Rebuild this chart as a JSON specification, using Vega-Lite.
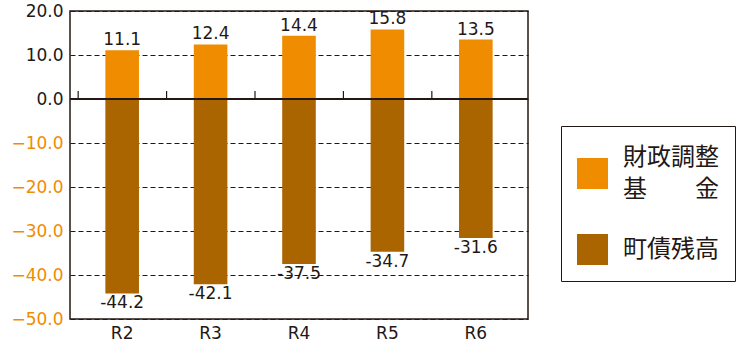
{
  "$schema": "https://vega.github.io/schema/vega-lite/v6.json",
  "autosize": {"type": "none"},
  "width": 458,
  "height": 308,
  "padding": {"left": 70, "top": 11, "right": 220, "bottom": 39},
  "background": "white",
  "config": {
    "view": {"stroke": "#231815", "strokeWidth": 1.5},
    "font": "DejaVu Sans",
    "style": {"guide-label": {"lineHeight": 32}}
  },
  "data": {
    "values": [
      {"cat": "R2", "series": "財政調整", "value": 11.1, "label": "11.1"},
      {"cat": "R3", "series": "財政調整", "value": 12.4, "label": "12.4"},
      {"cat": "R4", "series": "財政調整", "value": 14.4, "label": "14.4"},
      {"cat": "R5", "series": "財政調整", "value": 15.8, "label": "15.8"},
      {"cat": "R6", "series": "財政調整", "value": 13.5, "label": "13.5"},
      {"cat": "R2", "series": "町債残高", "value": -44.2, "label": "-44.2"},
      {"cat": "R3", "series": "町債残高", "value": -42.1, "label": "-42.1"},
      {"cat": "R4", "series": "町債残高", "value": -37.5, "label": "-37.5"},
      {"cat": "R5", "series": "町債残高", "value": -34.7, "label": "-34.7"},
      {"cat": "R6", "series": "町債残高", "value": -31.6, "label": "-31.6"}
    ]
  },
  "layer": [
    {
      "mark": {"type": "bar"},
      "encoding": {
        "x": {
          "field": "cat", "type": "nominal", "sort": null,
          "scale": {"paddingInner": 0.62, "paddingOuter": 0.4, "align": 0.5},
          "axis": {"title": null, "labelAngle": 0, "domain": false, "ticks": false, "labelPadding": 6, "labelFontSize": 17, "labelColor": "#231815", "labelFont": "DejaVu Sans"}
        },
        "y": {
          "field": "value", "type": "quantitative", "stack": null,
          "scale": {"domain": [-50, 20], "nice": false},
          "axis": {
            "title": null, "values": [-50, -40, -30, -20, -10, 0, 10, 20],
            "domain": false, "ticks": false, "labelPadding": 7,
            "labelFontSize": 17, "labelFont": "DejaVu Sans",
            "labelExpr": "datum.value < 0 ? '−' + format(-datum.value, '.1f') : format(datum.value, '.1f')",
            "labelColor": {"expr": "datum.value < 0 ? '#F08C00' : '#231815'"},
            "grid": true, "gridColor": "#231815", "gridDash": [5, 3], "gridWidth": 1
          }
        },
        "color": {
          "field": "series", "type": "nominal",
          "scale": {"domain": ["財政調整", "町債残高"], "range": ["#F08C00", "#AA6400"]},
          "legend": {
            "title": null, "orient": "none", "legendX": 491, "legendY": 115,
            "strokeColor": "#231815", "padding": 16, "fillColor": "white",
            "symbolType": "square", "symbolSize": 961, "symbolStrokeWidth": 0,
            "labelFont": "Noto Sans CJK JP", "labelFontSize": 24, "labelColor": "#231815",
            "labelOffset": 15, "rowPadding": 32, "labelLimit": 200,
            "labelExpr": "datum.label == '財政調整' ? ['財政調整', '基　　金'] : datum.label",
            "encode": {
              "symbols": {"update": {"y": {"signal": "datum.index === 0 ? 31.5 : 15.5"}}}
            }
          }
        }
      }
    },
    {
      "transform": [{"filter": "datum.value >= 0"}],
      "mark": {"type": "text", "baseline": "alphabetic", "dy": -5, "fontSize": 17, "color": "#231815", "font": "DejaVu Sans"},
      "encoding": {
        "x": {"field": "cat", "type": "nominal", "sort": null},
        "y": {"field": "value", "type": "quantitative"},
        "text": {"field": "label"}
      }
    },
    {
      "transform": [{"filter": "datum.value < 0"}],
      "mark": {"type": "text", "baseline": "top", "dy": 2, "fontSize": 17, "color": "#231815", "font": "DejaVu Sans"},
      "encoding": {
        "x": {"field": "cat", "type": "nominal", "sort": null},
        "y": {"field": "value", "type": "quantitative"},
        "text": {"field": "label"}
      }
    },
    {
      "data": {"values": [{"zero": 0}]},
      "mark": {"type": "rule", "color": "#231815", "strokeWidth": 2},
      "encoding": {"y": {"field": "zero", "type": "quantitative"}}
    },
    {
      "transform": [{"filter": "datum.value >= 0"}],
      "mark": {"type": "point", "shape": "M0,0L0,-1", "size": 256, "filled": false, "opacity": 1, "stroke": "#231815", "strokeWidth": 1.2, "xOffset": -44},
      "encoding": {
        "x": {"field": "cat", "type": "nominal", "sort": null},
        "y": {"datum": 0, "type": "quantitative"}
      }
    }
  ]
}
